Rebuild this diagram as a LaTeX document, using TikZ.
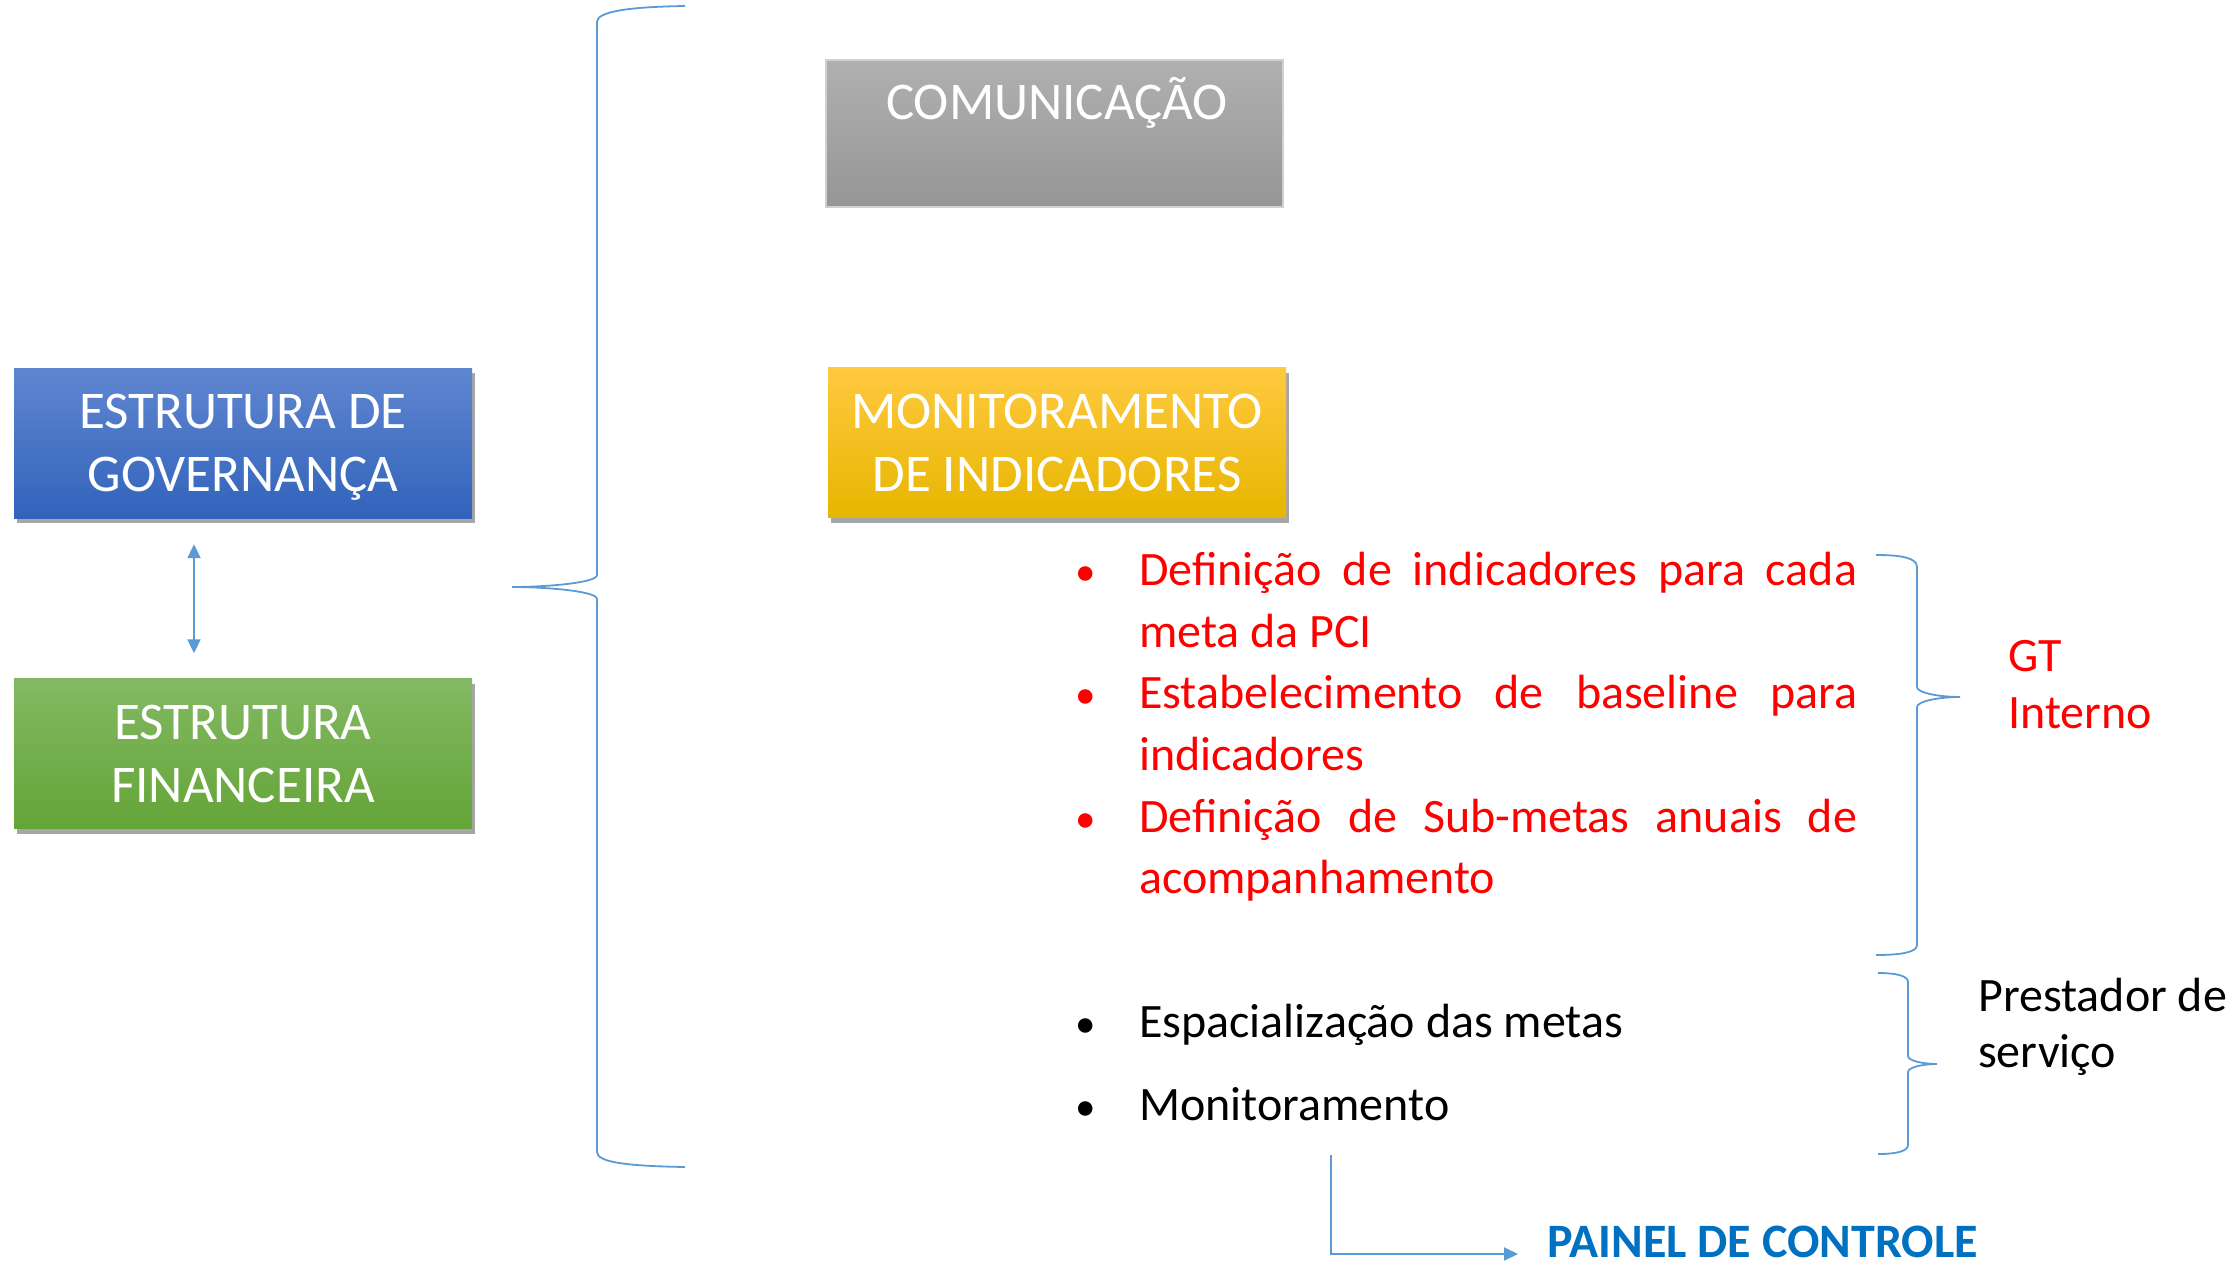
\documentclass[tikz,border=0pt]{standalone}
\usepackage{fontspec}
\setmainfont{Carlito}
\usetikzlibrary{shadows,arrows.meta}
\definecolor{brc}{RGB}{91,155,213}
\definecolor{bluetop}{RGB}{96,134,208}
\definecolor{bluebot}{RGB}{49,99,187}
\definecolor{greentop}{RGB}{131,185,99}
\definecolor{greenbot}{RGB}{100,164,55}
\definecolor{yeltop}{RGB}{255,201,64}
\definecolor{yelmid}{RGB}{253,193,0}
\definecolor{yelbot}{RGB}{230,182,0}
\definecolor{graytop}{RGB}{176,176,176}
\definecolor{graybot}{RGB}{150,150,150}
\definecolor{grayedge}{RGB}{208,208,208}
\definecolor{painelblue}{RGB}{0,112,192}
\definecolor{redtxt}{RGB}{255,0,0}
\tikzset{
  box/.style={minimum width=458pt, minimum height=150pt, inner sep=0pt,
    text=white, font=\fontsize{53}{63}\selectfont, align=center},
  shad/.style={drop shadow={shadow xshift=3pt, shadow yshift=-5pt, opacity=0.35, fill=black}},
  listline/.style={anchor=base west, inner sep=0pt, font=\fontsize{48}{56}\selectfont},
  bul/.style={anchor=base, inner sep=0pt, font=\fontsize{41}{56}\selectfont},
  side/.style={anchor=base west, inner sep=0pt, font=\fontsize{48}{56}\selectfont},
  brace/.style={draw=brc, line width=1.8pt},
  arr/.style={draw=brc, line width=2pt, >={Triangle[width=13pt,length=14pt]}}
}
\begin{document}
\begin{tikzpicture}[x=1pt,y=-1pt]
\useasboundingbox (0,0) rectangle (2238,1263);

% left boxes
\node[box, shad, top color=bluetop, bottom color=bluebot, text depth=0pt] (gov) at (243,443) {ESTRUTURA DE\\GOVERNANÇA};
\node[box, shad, top color=greentop, bottom color=greenbot] (fin) at (243,753.5) {ESTRUTURA\\FINANCEIRA};
\draw[arr, <->] ([xshift=-49pt,yshift=-26pt]gov.south) -- ([xshift=-49pt,yshift=25pt]fin.north);

% big brace
\draw[brace] (685,6) .. controls (625,7) and (597,12) .. (597,22) -- (597,575)
  .. controls (597,583) and (545,587) .. (512,587)
  .. controls (545,587) and (597,591) .. (597,599) -- (597,1152)
  .. controls (597,1162) and (625,1166) .. (685,1167);

% top boxes
\node[minimum width=457pt, minimum height=147pt, inner sep=0pt, top color=graytop, bottom color=graybot, draw=grayedge, line width=1.5pt] (com) at (1054.5,133.5) {};
\node[anchor=base, inner sep=0pt, text=white, font=\fontsize{53}{63}\selectfont] (comtxt) at (1057,119) {COMUNICAÇÃO};
\node[box, shad, top color=yeltop, middle color=yelmid, bottom color=yelbot] (mon) at (1057,442.5) {MONITORAMENTO\\DE INDICADORES};

% red list
\begin{scope}[text=redtxt]
\node[bul] (b1) at (1086,585) {•};
\node[listline] (r1a) at (1139,585) {\makebox[718pt][s]{Definição de indicadores para cada}};
\node[listline] (r1b) at (1139,647) {meta da PCI};
\node[bul] (b2) at (1086,708) {•};
\node[listline] (r2a) at (1139,708) {\makebox[718pt][s]{Estabelecimento de baseline para}};
\node[listline] (r2b) at (1139,770) {indicadores};
\node[bul] (b3) at (1086,832) {•};
\node[listline] (r3a) at (1139,832) {\makebox[718pt][s]{Definição de Sub-metas anuais de}};
\node[listline] (r3b) at (1139,893) {acompanhamento};
\node[side] (gt1) at (2008,671) {GT};
\node[side] (gt2) at (2008,728) {Interno};
\end{scope}

% small brace GT
\draw[brace] (1876,555) .. controls (1902,555) and (1917,558) .. (1917,567) -- (1917,687)
  .. controls (1917,693) and (1940,697) .. (1960,697)
  .. controls (1940,697) and (1917,701) .. (1917,707) -- (1917,945)
  .. controls (1917,952) and (1902,955) .. (1876,955);

% black list
\node[bul] (b4) at (1086,1037) {•};
\node[listline] (k1) at (1139,1037) {Espacialização das metas};
\node[bul] (b5) at (1086,1120) {•};
\node[listline] (k2) at (1139,1120) {Monitoramento};
\node[side] (ps1) at (1978,1011) {Prestador de};
\node[side] (ps2) at (1978,1067) {serviço};

% small brace prestador
\draw[brace] (1878,973) .. controls (1897,973) and (1908,976) .. (1908,982) -- (1908,1056)
  .. controls (1908,1061) and (1924,1064) .. (1937,1064)
  .. controls (1924,1064) and (1908,1067) .. (1908,1072) -- (1908,1145)
  .. controls (1908,1151) and (1897,1154) .. (1878,1154);

% painel
\node[anchor=base west, inner sep=0pt, text=painelblue, font=\fontsize{48}{56}\selectfont\bfseries] (painel) at (1547,1257) {PAINEL DE CONTROLE};
\coordinate (pstart) at (1331,1155);
\draw[arr, ->] (pstart) |- ([xshift=-29pt,yshift=3pt]painel.base west);
\end{tikzpicture}
\end{document}
